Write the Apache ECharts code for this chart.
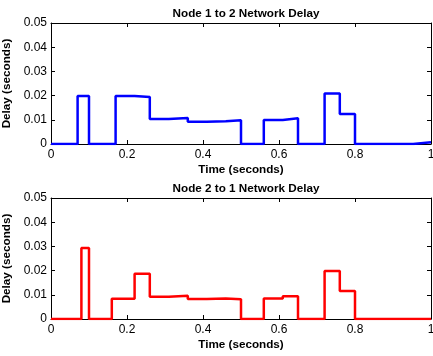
<!DOCTYPE html>
<html><head><meta charset="utf-8">
<script src="https://cdn.jsdelivr.net/npm/echarts@6/dist/echarts.min.js"></script>
<style>html,body{margin:0;padding:0;background:#fff}#c{width:433px;height:356px}</style>
</head><body><div id="c"></div>
<script>
const titles = ['Node 1 to 2 Network Delay', 'Node 2 to 1 Network Delay'];
const xTicks = [0, 0.2, 0.4, 0.6, 0.8, 1];
const yTicks = [0, 0.01, 0.02, 0.03, 0.04, 0.05];
const times12 = [0, 0.07, 0.10, 0.17, 0.22, 0.26, 0.31, 0.36, 0.41, 0.46, 0.50, 0.56, 0.61, 0.65, 0.72, 0.76, 0.80, 0.953, 1.0];
const delay12 = [0, 0.0198, 0, 0.0198, 0.0194, 0.0103, 0.0107, 0.0092, 0.0094, 0.0098, 0, 0.0099, 0.0106, 0, 0.0209, 0.0124, 0, 0.0007, 0.0007];
const times21 = [0, 0.08, 0.10, 0.16, 0.22, 0.26, 0.31, 0.36, 0.41, 0.46, 0.50, 0.56, 0.61, 0.65, 0.72, 0.76, 0.80, 1.0];
const delay21 = [0, 0.0293, 0, 0.0084, 0.0187, 0.0092, 0.0096, 0.0083, 0.0085, 0.0082, 0, 0.0085, 0.0094, 0, 0.0198, 0.0116, 0, 0];

const FONT = 'Liberation Sans, Arial, sans-serif';
const grids = [
  {left:51, top:23, width:380, height:121, containLabel:false, outerBoundsMode:'none'},
  {left:51, top:198, width:380, height:121, containLabel:false, outerBoundsMode:'none'}];
const xAxes = [], yAxes = [], series = [], titleArr = [];
const colors = ['#0000ff', '#ff0000'];
const datasets = [[times12, delay12], [times21, delay21]];
grids.forEach((g, i) => {
  titleArr.push({text: titles[i], left: g.left + g.width/2, top: g.top - 20, textAlign: 'center',
    textStyle: {fontFamily: FONT, fontSize: 11.7, fontWeight: 'bold', color: '#000'}});
  xAxes.push({type:'value', gridIndex:i, min:0, max:1, interval:0.2, position:'bottom',
    name:'Time (seconds)', nameLocation:'middle', nameGap:20,
    nameTextStyle:{fontFamily:FONT, fontSize:11.7, fontWeight:'bold', color:'#000'},
    axisLine:{show:true, onZero:false, lineStyle:{color:'#000', width:1}},
    axisTick:{show:true, inside:true, length:4, lineStyle:{color:'#000'}},
    axisLabel:{fontFamily:FONT, fontSize:12, color:'#000', margin:5,
      formatter: v => String(Math.round(v*10)/10)},
    splitLine:{show:false}});
  xAxes.push({type:'value', gridIndex:i, min:0, max:1, interval:0.2, position:'top',
    axisLine:{show:true, onZero:false, lineStyle:{color:'#000', width:1}},
    axisTick:{show:true, inside:true, length:4, lineStyle:{color:'#000'}},
    axisLabel:{show:false}, splitLine:{show:false}});
  yAxes.push({type:'value', gridIndex:i, min:0, max:0.05, interval:0.01, position:'left',
    name:'Delay (seconds)', nameLocation:'middle', nameGap:32, nameRotate:90,
    nameTextStyle:{fontFamily:FONT, fontSize:11.7, fontWeight:'bold', color:'#000'},
    axisLine:{show:true, onZero:false, lineStyle:{color:'#000', width:1}},
    axisTick:{show:true, inside:true, length:4, lineStyle:{color:'#000'}},
    axisLabel:{fontFamily:FONT, fontSize:12, color:'#000', margin:4,
      formatter: v => v === 0 ? '0' : v.toFixed(2)},
    splitLine:{show:false}});
  yAxes.push({type:'value', gridIndex:i, min:0, max:0.05, interval:0.01, position:'right',
    axisLine:{show:true, onZero:false, lineStyle:{color:'#000', width:1}},
    axisTick:{show:true, inside:true, length:4, lineStyle:{color:'#000'}},
    axisLabel:{show:false}, splitLine:{show:false}});
  const [ts, vs] = datasets[i];
  series.push({type:'line', xAxisIndex:i*2, yAxisIndex:i*2, step:'end', symbol:'none',
    data: ts.map((t, k) => [t, vs[k]]), lineStyle:{color:colors[i], width:2.5}, z:1, animation:false});
});
const chart = echarts.init(document.getElementById('c'), null, {renderer:'canvas'});
chart.setOption({animation:false, backgroundColor:'#fff', title:titleArr, grid:grids, xAxis:xAxes, yAxis:yAxes, series});
</script></body></html>
